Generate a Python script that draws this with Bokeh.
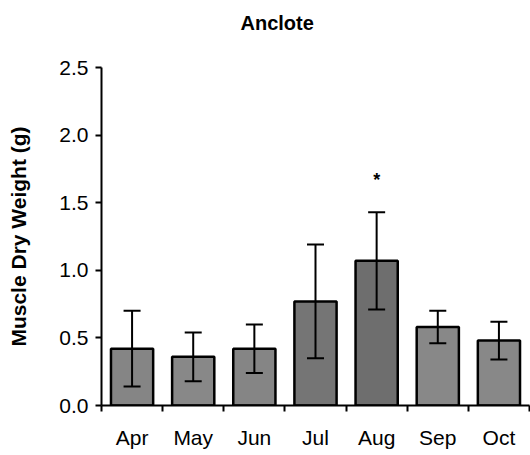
from bokeh.plotting import figure
from bokeh.models import (ColumnDataSource, Range1d, FixedTicker, Whisker, TeeHead,
                          NumeralTickFormatter, Title)
from bokeh.core.properties import value
from bokeh.embed import file_html
from bokeh.resources import INLINE

# ---- data ----
months = ["Apr", "May", "Jun", "Jul", "Aug", "Sep", "Oct"]
mean_weight = [0.42, 0.36, 0.42, 0.77, 1.07, 0.58, 0.48]
sd_weight = [0.28, 0.18, 0.18, 0.42, 0.36, 0.12, 0.14]
significance = ["", "", "", "", "*", "", ""]
y_ticks = [0.0, 0.5, 1.0, 1.5, 2.0, 2.5]

# ---- derived ----
xs = [i + 0.5 for i in range(len(months))]
upper = [m + s for m, s in zip(mean_weight, sd_weight)]
lower = [m - s for m, s in zip(mean_weight, sd_weight)]
bar_colors = ["#858585", "#888888", "#858585", "#757575", "#6e6e6e", "#888888", "#888888"]

src = ColumnDataSource(dict(x=xs, top=mean_weight, upper=upper, lower=lower,
                            color=bar_colors))
sig_src = ColumnDataSource(dict(x=xs, y=[u + 0.24 for u in upper], t=significance))

FONT = "Liberation Sans"

p = figure(width=530, height=455, output_backend="svg", toolbar_location=None,
           x_range=Range1d(0, len(months)), y_range=Range1d(0, 2.5),
           min_border_left=101, min_border_right=1, min_border_top=67,
           min_border_bottom=50)
p.title_location = None

# spacer (closest to the frame), then the visible title above it
p.add_layout(Title(text=" ", text_font=FONT, text_font_size="10px", standoff=21), "above")
p.add_layout(Title(text="Anclote", align="left", offset=139, standoff=0,
                   text_font=FONT, text_font_size="20px", text_font_style="bold",
                   text_color="black"), "above")

p.vbar(x="x", top="top", bottom=0, width=0.69, source=src,
       fill_color="color", line_color="black", line_width=2.5)

w = Whisker(base="x", upper="upper", lower="lower", source=src, level="overlay",
            line_color="black", line_width=2,
            upper_head=TeeHead(size=17, line_width=2, line_color="black"),
            lower_head=TeeHead(size=17, line_width=2, line_color="black"))
p.add_layout(w)

p.text(x="x", y="y", text="t", source=sig_src, text_font=value(FONT),
       text_font_size="18px", text_font_style="bold", text_align="center",
       text_baseline="middle", text_color="black")

# axes
p.xgrid.grid_line_color = None
p.ygrid.grid_line_color = None
p.outline_line_color = None
p.background_fill_color = "white"
p.border_fill_color = "white"

xa = p.xaxis[0]
xa.ticker = FixedTicker(ticks=xs, minor_ticks=list(range(len(months) + 1)))
xa.major_label_overrides = {x: m for x, m in zip(xs, months)}
xa.major_tick_out = 0
xa.major_tick_in = 0
xa.minor_tick_out = 6
xa.minor_tick_in = 0
xa.minor_tick_line_width = 2
xa.minor_tick_line_color = "black"
xa.axis_line_width = 2
xa.axis_line_color = "black"
xa.major_label_text_font = FONT
xa.major_label_text_font_size = "21px"
xa.major_label_text_color = "black"
xa.major_label_standoff = 14

ya = p.yaxis[0]
ya.ticker = FixedTicker(ticks=y_ticks)
ya.formatter = NumeralTickFormatter(format="0.0")
ya.major_tick_out = 6
ya.major_tick_in = 0
ya.minor_tick_out = 0
ya.minor_tick_in = 0
ya.major_tick_line_width = 2
ya.major_tick_line_color = "black"
ya.axis_line_width = 2
ya.axis_line_color = "black"
ya.major_label_text_font = FONT
ya.major_label_text_font_size = "21px"
ya.major_label_text_color = "black"
ya.major_label_standoff = 7
ya.axis_label = "Muscle Dry Weight (g)"
ya.axis_label_text_font = FONT
ya.axis_label_text_font_size = "21px"
ya.axis_label_text_font_style = "bold"
ya.axis_label_text_color = "black"
ya.axis_label_standoff = 26

open("out.html", "w").write(file_html(p, INLINE))
